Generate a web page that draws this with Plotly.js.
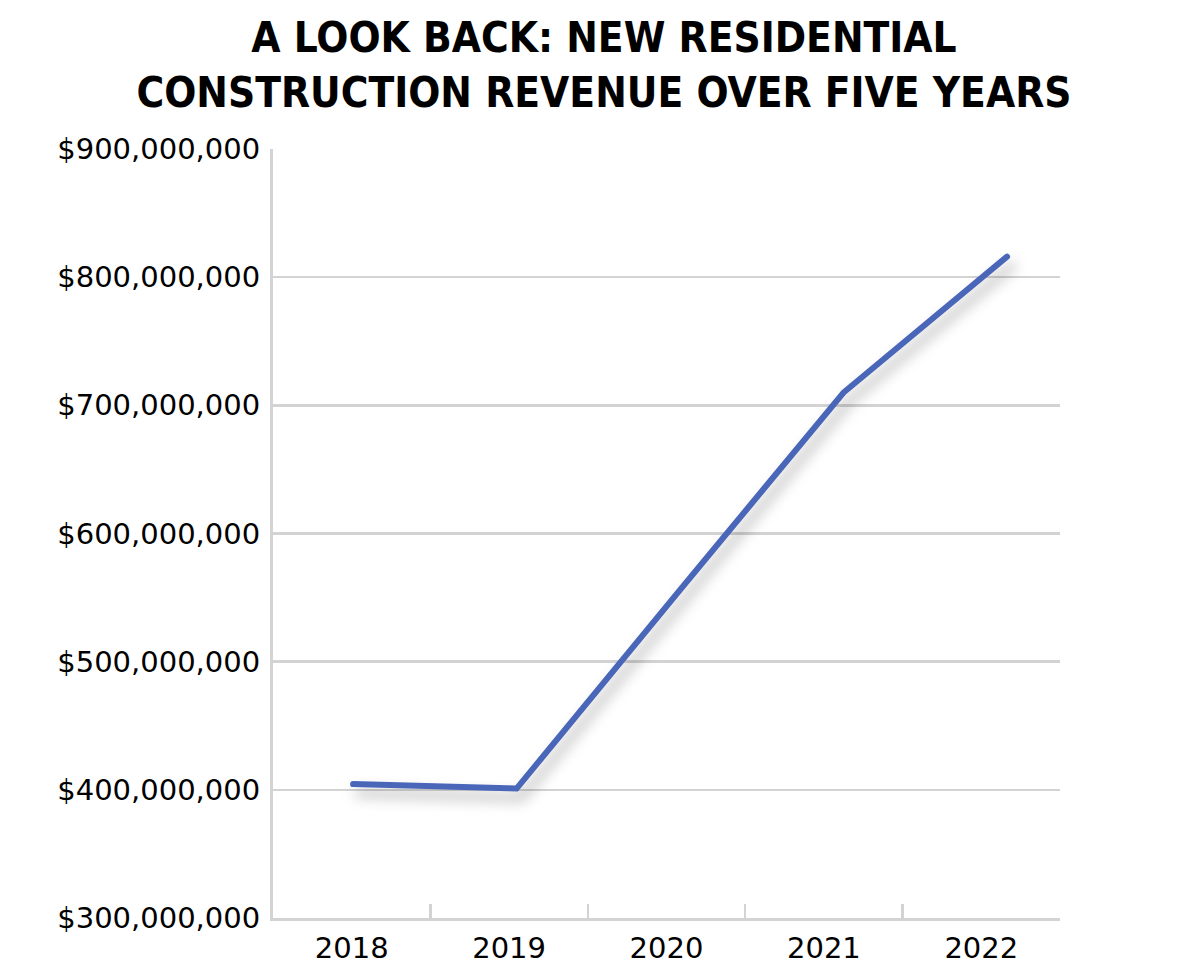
<!DOCTYPE html>
<html>
<head>
<meta charset="utf-8">
<script src="https://cdn.plot.ly/plotly-3.0.1.min.js"></script>
<style>
  html, body { margin: 0; padding: 0; background: #ffffff; }
  #chart { width: 1180px; height: 974px; }
</style>
</head>
<body>
<div id="chart"></div>
<script>
// ---- data ----
const years = ["2018", "2019", "2020", "2021", "2022"];
const revenue = [404500000, 401000000, 556000000, 710000000, 816000000];
const yTickValues = [300000000, 400000000, 500000000, 600000000, 700000000, 800000000, 900000000];
const yTickLabels = yTickValues.map(function (v) { return "$" + v.toLocaleString("en-US"); });
const titleText = "A LOOK BACK: NEW RESIDENTIAL<br>CONSTRUCTION REVENUE OVER FIVE YEARS";

const gridGray = "#d3d3d3";
const titleFont = { family: "DejaVu Sans Condensed, Liberation Sans Narrow, sans-serif", size: 42, color: "#000000", weight: 700 };
const tickFont = { family: "DejaVu Sans, sans-serif", size: 29, color: "#000000" };

// invisible carrier so the category axis (ticks, line, labels) is drawn
const axisTrace = {
  x: years,
  y: revenue,
  xaxis: "x",
  yaxis: "y",
  type: "scatter",
  mode: "lines",
  line: { color: "rgba(0,0,0,0)", width: 0 },
  hoverinfo: "skip",
  showlegend: false
};

const lineTrace = {
  x: years,
  y: revenue,
  xaxis: "x2",
  yaxis: "y",
  type: "scatter",
  mode: "lines",
  line: { color: "#4a66b8", width: 6 },
  hoverinfo: "skip",
  showlegend: false
};

const layout = {
  width: 1180,
  height: 974,
  margin: { l: 273, r: 120, t: 149, b: 56 },
  paper_bgcolor: "#ffffff",
  plot_bgcolor: "#ffffff",
  showlegend: false,
  title: {
    text: titleText,
    font: titleFont,
    xref: "container", yref: "container",
    x: 604 / 1180, y: 1 - 52 / 974,
    xanchor: "center", yanchor: "middle"
  },
  xaxis: {
    type: "category",
    categoryorder: "array",
    categoryarray: years,
    range: [-0.5, 4.5],
    tickson: "boundaries",
    ticks: "inside",
    ticklen: 14,
    tickwidth: 2.5,
    tickcolor: gridGray,
    showline: true,
    linecolor: gridGray,
    linewidth: 3,
    showgrid: false,
    zeroline: false,
    tickfont: tickFont,
    ticklabelstandoff: 2,
    fixedrange: true
  },
  xaxis2: {
    type: "category",
    categoryorder: "array",
    categoryarray: years,
    overlaying: "x",
    range: [-0.49, 4.324],
    visible: false,
    fixedrange: true
  },
  yaxis: {
    range: [300000000, 900000000],
    tickvals: yTickValues,
    ticktext: yTickLabels,
    showgrid: true,
    gridcolor: gridGray,
    gridwidth: 2.5,
    showline: true,
    linecolor: gridGray,
    linewidth: 3,
    ticks: "",
    zeroline: false,
    tickfont: tickFont,
    ticklabelstandoff: 4,
    fixedrange: true
  }
};

Plotly.newPlot("chart", [axisTrace, lineTrace], layout, { displayModeBar: false, staticPlot: true }).then(function () {
  document.querySelectorAll(".scatterlayer path.js-line").forEach(function (p) {
    p.style.filter = "drop-shadow(5px 9px 7px rgba(0,0,0,0.32))";
    p.style.strokeLinecap = "round";
  });
});
</script>
</body>
</html>
